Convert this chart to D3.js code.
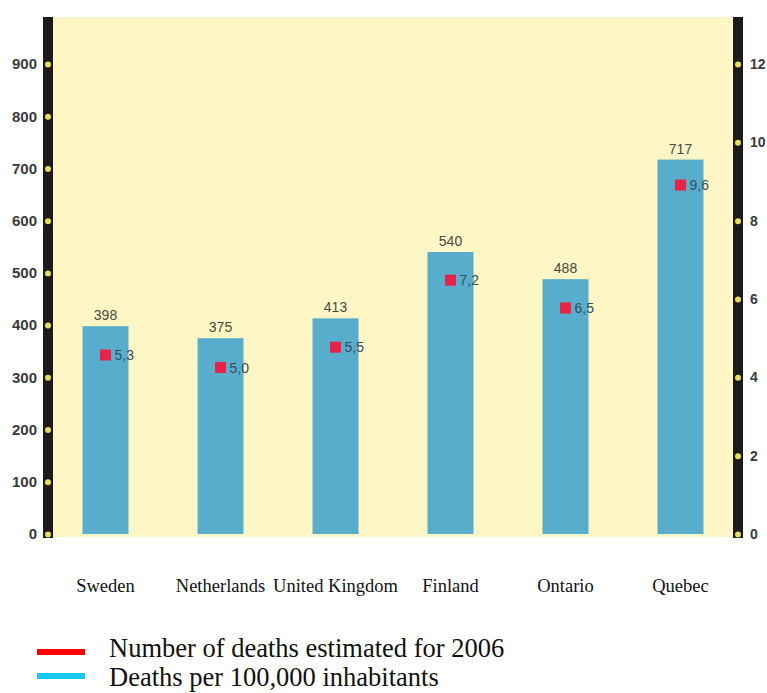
<!DOCTYPE html>
<html>
<head>
<meta charset="utf-8">
<script src="https://cdn.jsdelivr.net/npm/d3@7/dist/d3.min.js"></script>
<style>
  html, body { margin: 0; padding: 0; background: #ffffff; }
  svg { display: block; }
</style>
</head>
<body>
<svg id="chart" width="767" height="693"></svg>
<script>
// ---- data ----
const categories = ["Sweden", "Netherlands", "United Kingdom", "Finland", "Ontario", "Quebec"];
const deaths = [398, 375, 413, 540, 488, 717];
const rateLabels = ["5,3", "5,0", "5,5", "7,2", "6,5", "9,6"];
// marker positions as drawn on the right axis scale
const ratePositions = [4.57, 4.25, 4.77, 6.48, 5.77, 8.91];
const leftTicks = [0, 100, 200, 300, 400, 500, 600, 700, 800, 900];
const rightTicks = [0, 2, 4, 6, 8, 10, 12];
const legendItems = [
  { label: "Number of deaths estimated for 2006", color: "#ff0000" },
  { label: "Deaths per 100,000 inhabitants", color: "#19c8f2" }
];

const svg = d3.select("#chart");

const plot = { left: 53, right: 733, top: 17, bottom: 537 };

const x = d3.scaleBand().domain(categories).range([48, 738]).paddingInner(0.6).paddingOuter(0.3);
const yL = d3.scaleLinear().domain([0, 900]).range([534, 64]);
const yR = d3.scaleLinear().domain([0, 12]).range([534, 64]);

// background
svg.append("rect")
  .attr("x", plot.left).attr("y", plot.top)
  .attr("width", plot.right - plot.left).attr("height", plot.bottom - plot.top)
  .attr("fill", "#fef7c5");

// bars
svg.append("g").selectAll("rect")
  .data(categories)
  .join("rect")
  .attr("x", d => x(d))
  .attr("y", (d, i) => yL(deaths[i]))
  .attr("width", x.bandwidth())
  .attr("height", (d, i) => yL(0) - yL(deaths[i]))
  .attr("fill", "#57adcb");

// value labels
svg.append("g").selectAll("text")
  .data(categories)
  .join("text")
  .attr("x", d => x(d) + x.bandwidth() / 2)
  .attr("y", (d, i) => yL(deaths[i]) - 6)
  .attr("text-anchor", "middle")
  .attr("font-family", "Liberation Sans, Arial, sans-serif")
  .attr("font-size", 14)
  .attr("fill", "#4a4a40")
  .text((d, i) => deaths[i]);

// markers
const ms = 11;
svg.append("g").selectAll("rect")
  .data(categories)
  .join("rect")
  .attr("x", d => x(d) + x.bandwidth() / 2 - ms / 2)
  .attr("y", (d, i) => yR(ratePositions[i]) - ms / 2)
  .attr("width", ms).attr("height", ms)
  .attr("fill", "#e8234a");

svg.append("g").selectAll("text")
  .data(categories)
  .join("text")
  .attr("x", d => x(d) + x.bandwidth() / 2 + 9)
  .attr("y", (d, i) => yR(ratePositions[i]) + 5)
  .attr("font-family", "Liberation Sans, Arial, sans-serif")
  .attr("font-size", 14)
  .attr("fill", "#344e60")
  .text((d, i) => rateLabels[i]);

// axis bars
svg.append("rect").attr("x", 43).attr("y", 17).attr("width", 10).attr("height", 521).attr("fill", "#1c1a1a");
svg.append("rect").attr("x", 733).attr("y", 17).attr("width", 10).attr("height", 521).attr("fill", "#1c1a1a");

// left axis
const axL = svg.append("g").attr("transform", "translate(48,0)")
  .call(d3.axisLeft(yL).tickValues(leftTicks).tickSize(0).tickPadding(11));
axL.select(".domain").remove();
axL.selectAll(".tick text")
  .attr("font-family", "Liberation Sans, Arial, sans-serif")
  .attr("font-size", 15).attr("font-weight", "bold").attr("fill", "#3a3a3a");
axL.selectAll(".tick").append("circle").attr("r", 3).attr("fill", "#e6df5e");

// right axis
const axR = svg.append("g").attr("transform", "translate(738,0)")
  .call(d3.axisRight(yR).tickValues(rightTicks).tickSize(0).tickPadding(12));
axR.select(".domain").remove();
axR.selectAll(".tick text")
  .attr("font-family", "Liberation Sans, Arial, sans-serif")
  .attr("font-size", 14).attr("font-weight", "bold").attr("fill", "#3a3a3a");
axR.selectAll(".tick").append("circle").attr("r", 3).attr("fill", "#e6df5e");

// category labels
svg.append("g").selectAll("text")
  .data(categories)
  .join("text")
  .attr("x", d => x(d) + x.bandwidth() / 2)
  .attr("y", 592)
  .attr("text-anchor", "middle")
  .attr("font-family", "Liberation Serif, Times New Roman, serif")
  .attr("font-size", 18.5)
  .attr("fill", "#111")
  .text(d => d);

// legend
const lg = svg.append("g").selectAll("g")
  .data(legendItems)
  .join("g");
lg.append("rect")
  .attr("x", 37).attr("y", (d, i) => 649 + i * 24)
  .attr("width", 48).attr("height", 6).attr("fill", d => d.color);
lg.append("text")
  .attr("x", 109).attr("y", (d, i) => 657 + i * 29)
  .attr("font-family", "Liberation Serif, Times New Roman, serif")
  .attr("font-size", 26.5)
  .attr("fill", "#111")
  .text(d => d.label);
</script>
</body>
</html>
